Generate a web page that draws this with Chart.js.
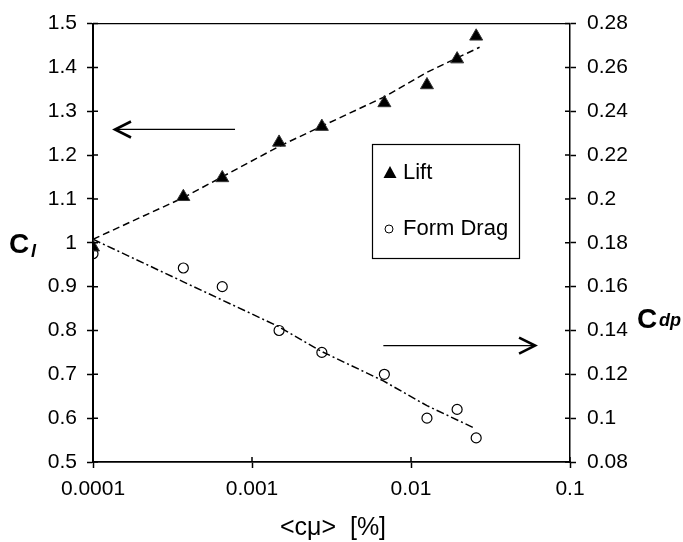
<!DOCTYPE html>
<html><head><meta charset="utf-8">
<script src="https://cdn.jsdelivr.net/npm/chart.js@4.4.1/dist/chart.umd.min.js"></script>
<style>html,body{margin:0;padding:0;background:#fff}</style>
</head><body>
<canvas id="c" width="683" height="542"></canvas>
<script>
// values
const cmu=[0.0001,0.00037,0.00065,0.00148,0.00275,0.0068,0.0126,0.0195,0.0257];
const lift=[0.99,1.105,1.148,1.229,1.265,1.319,1.36,1.419,1.471];
const drag=[0.175,0.1685,0.160,0.140,0.130,0.120,0.100,0.104,0.091];
// trend lines
const liftFitX=[0.0001,0.00037,0.00148,0.0068,0.0126,0.027];
const liftFitY=[1.008,1.103,1.220,1.333,1.389,1.446];
const dragFitX=[0.0001,0.00037,0.00146,0.00271,0.0067,0.0126,0.0245];
const dragFitY=[0.1816,0.1622,0.1419,0.1306,0.117,0.1057,0.0958];
const xTicks=[0.0001,0.001,0.01,0.1];
const clTicks=[0.5,0.6,0.7,0.8,0.9,1,1.1,1.2,1.3,1.4,1.5];
const cdpTicks=[0.08,0.1,0.12,0.14,0.16,0.18,0.2,0.22,0.24,0.26,0.28];
// arrows: which axis each one points to
const arrows=[{x0:0.000782,x1:0.0001375,y:1.2585,axis:'yL'},{x0:0.0067,x1:0.0603,y:0.1331,axis:'yR'}];

const FF="'Liberation Sans', Arial, sans-serif";
const tickFont={family:FF,size:21};
const pts=(xs,ys)=>xs.map((x,i)=>({x:x,y:ys[i]}));
const setTicks=arr=>s=>{s.ticks=arr.map(v=>({value:v}))};

const deco={
  id:'deco',
  afterDraw(ch){
    const c=ch.ctx,a=ch.chartArea,sx=ch.scales.x,sl=ch.scales.yL,sr=ch.scales.yR;
    c.save();
    c.strokeStyle='#000';c.fillStyle='#000';
    // top frame
    c.lineWidth=1.2;c.beginPath();c.moveTo(a.left,a.top);c.lineTo(a.right,a.top);c.stroke();
    // inner half of the crossing ticks
    c.lineWidth=1.5;c.beginPath();
    xTicks.forEach(v=>{const p=sx.getPixelForValue(v);c.moveTo(p,a.bottom);c.lineTo(p,a.bottom-5)});
    clTicks.forEach(v=>{const p=sl.getPixelForValue(v);c.moveTo(a.left,p);c.lineTo(a.left+5,p)});
    cdpTicks.forEach(v=>{const p=sr.getPixelForValue(v);c.moveTo(a.right,p);c.lineTo(a.right-5,p)});
    c.stroke();
    // arrows
    arrows.forEach(r=>{
      const sy=ch.scales[r.axis],y=sy.getPixelForValue(r.y),p0=sx.getPixelForValue(r.x0),p1=sx.getPixelForValue(r.x1),d=p1>p0?1:-1;
      c.lineWidth=1.3;c.beginPath();c.moveTo(p0,y);c.lineTo(p1,y);c.stroke();
      c.lineWidth=2.6;c.beginPath();c.moveTo(p1-d*16,y-8);c.lineTo(p1,y);c.lineTo(p1-d*16,y+8);c.stroke();
    });
    // legend box
    c.lineWidth=1.2;c.strokeRect(372.5,144.5,147,114);
    c.beginPath();c.moveTo(390,166);c.lineTo(396.5,178);c.lineTo(383.5,178);c.closePath();c.fill();
    c.lineWidth=1;c.beginPath();c.arc(389,229,4,0,Math.PI*2);c.stroke();
    c.font='22px '+FF;c.textBaseline='middle';c.textAlign='left';
    c.fillText('Lift',403,173);c.fillText('Form Drag',403,229);
    // axis titles
    c.textBaseline='alphabetic';
    c.font='bold 28px '+FF;c.fillText('C',9,253);c.fillText('C',637,328);
    c.font='italic bold 18px '+FF;c.fillText('l',31,257);c.fillText('dp',659,326);
    c.font='25px '+FF;c.textAlign='center';c.fillText('<cμ>  [%]',333,535);
    c.restore();
  }
};

new Chart(document.getElementById('c'),{
  type:'scatter',
  data:{datasets:[
    {label:'Lift',data:pts(cmu,lift),yAxisID:'yL',pointStyle:'triangle',pointRadius:7.5,backgroundColor:'#000',borderColor:'#333',borderWidth:1},
    {label:'Form Drag',data:pts(cmu,drag),yAxisID:'yR',pointStyle:'circle',pointRadius:5,backgroundColor:'rgba(0,0,0,0)',borderColor:'#000',borderWidth:1.2},
    {type:'line',label:'lift fit',data:pts(liftFitX,liftFitY),yAxisID:'yL',borderColor:'#000',borderWidth:1.5,borderDash:[7,4],pointRadius:0,fill:false,tension:0},
    {type:'line',label:'drag fit',data:pts(dragFitX,dragFitY),yAxisID:'yR',borderColor:'#000',borderWidth:1.5,borderDash:[8,3,2,3],pointRadius:0,fill:false,tension:0}
  ]},
  options:{
    responsive:false,animation:false,
    layout:{padding:{top:19,left:0,right:0,bottom:0}},
    plugins:{legend:{display:false},tooltip:{enabled:false}},
    scales:{
      x:{type:'logarithmic',min:0.0001,max:0.1,afterBuildTicks:setTicks(xTicks),afterFit:s=>{s.height=80},
        ticks:{callback:v=>String(v),font:tickFont,color:'#000',padding:9,autoSkip:false,maxRotation:0},
        grid:{drawOnChartArea:false,tickLength:6,color:'#000',tickWidth:1.5},border:{color:'#000',width:1.7}},
      yL:{position:'left',min:0.5,max:1.5,afterBuildTicks:setTicks(clTicks),afterFit:s=>{s.width=93},
        ticks:{callback:v=>String(+v.toFixed(1)),font:tickFont,color:'#000',padding:10,autoSkip:false},
        grid:{drawOnChartArea:false,tickLength:6,color:'#000',tickWidth:1.5},border:{color:'#000',width:2}},
      yR:{position:'right',min:0.08,max:0.28,afterBuildTicks:setTicks(cdpTicks),afterFit:s=>{s.width=113},
        ticks:{callback:v=>String(+v.toFixed(2)),font:tickFont,color:'#000',padding:11,autoSkip:false},
        grid:{drawOnChartArea:false,tickLength:6,color:'#000',tickWidth:1.5},border:{color:'#000',width:1.5}}
    }
  },
  plugins:[deco]
});
</script>
</body></html>
